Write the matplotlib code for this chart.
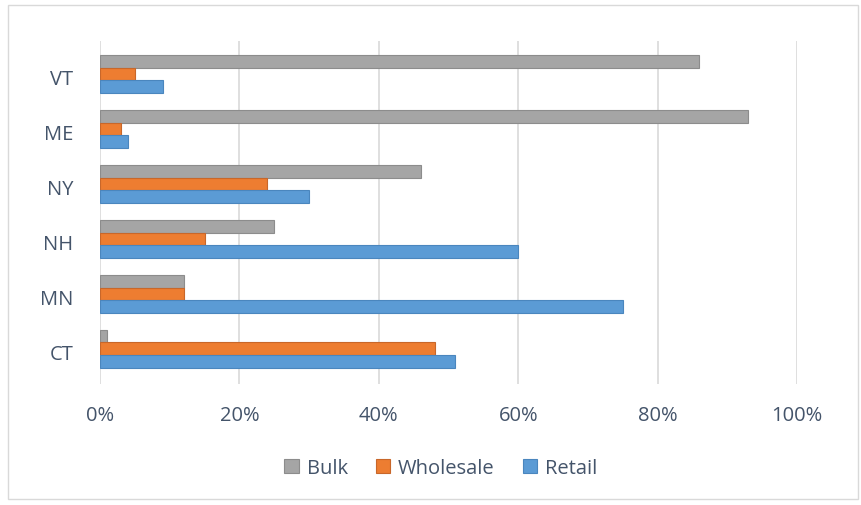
import numpy as np
import matplotlib.pyplot as plt
from matplotlib.patches import Rectangle

plt.rcParams["font.family"] = ["Open Sans", "DejaVu Sans"]

states = ["CT", "MN", "NH", "NY", "ME", "VT"]
bulk = [1, 12, 25, 46, 93, 86]
wholesale = [48, 12, 15, 24, 3, 5]
retail = [51, 75, 60, 30, 4, 9]

colors = {"Bulk": "#A5A5A5", "Wholesale": "#ED7D31", "Retail": "#5B9BD5"}
edges = {"Bulk": "#8C8C8C", "Wholesale": "#C8672A", "Retail": "#4A86BE"}
text_color = "#44546A"

fig = plt.figure(figsize=(8.61, 5.06), dpi=100)
ax = fig.add_axes([100 / 861, 121 / 506, 697 / 861, 343 / 506])

y = np.arange(len(states))
h = 0.23
offsets = {"Bulk": 0.23, "Wholesale": 0.0, "Retail": -0.23}
for name, vals in [("Bulk", bulk), ("Wholesale", wholesale), ("Retail", retail)]:
    ax.barh(y + offsets[name], vals, height=h, color=colors[name],
            edgecolor=edges[name], linewidth=0.8, label=name, zorder=3)

ax.set_xlim(0, 100)
ax.set_ylim(-0.64, 5.6)
ax.set_xticks(np.arange(0, 101, 20))
ax.set_xticklabels([f"{v}%" for v in range(0, 101, 20)])
ax.set_yticks(y - 0.05)
ax.set_yticklabels(states)
ax.tick_params(axis="both", length=0, labelsize=14.5, labelcolor=text_color)
ax.tick_params(axis="x", pad=15)
ax.tick_params(axis="y", pad=19)
ax.grid(axis="x", color="#D9D9D9", linewidth=1.2, zorder=0)
for s in ax.spines.values():
    s.set_visible(False)

handles, labels = ax.get_legend_handles_labels()
leg = fig.legend(handles, labels, loc="center", bbox_to_anchor=(0.512, 1 - 469 / 506),
                 ncol=3, frameon=False, fontsize=14.5, handlelength=0.7,
                 handleheight=0.7, columnspacing=1.4, handletextpad=0.4)
for t in leg.get_texts():
    t.set_color(text_color)

fig.patches.append(Rectangle((8 / 861, 6 / 506), 850 / 861, 494 / 506,
                             transform=fig.transFigure, fill=False,
                             edgecolor="#D9D9D9", linewidth=1))

fig.savefig("out.png", dpi=100)
